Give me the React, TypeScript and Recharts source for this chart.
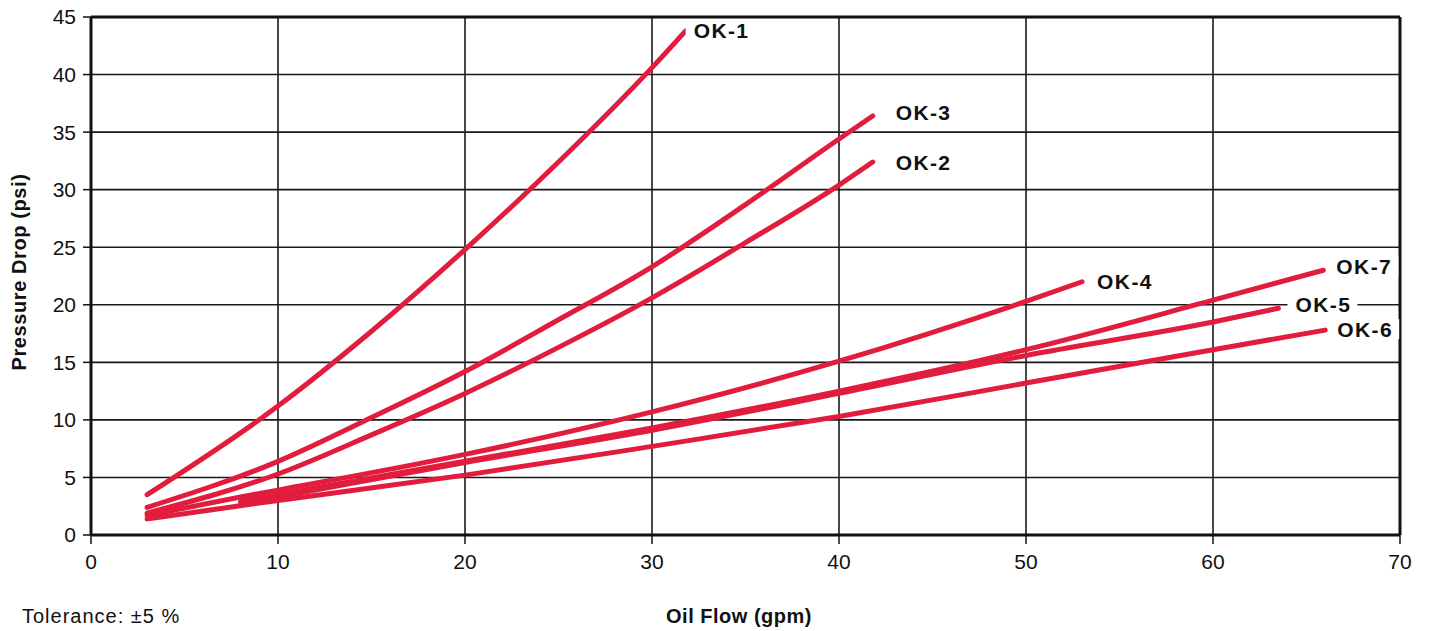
import { LineChart, Line, XAxis, YAxis, CartesianGrid, ReferenceLine } from 'recharts'

// oil flow (gpm) / pressure drop (psi) pairs
const OK1 = [[3, 3.5], [10, 11.2], [15, 17.7], [20, 24.8], [25, 32.4], [30, 40.6], [31.8, 43.8]]
const OK2 = [[3, 1.9], [10, 5.3], [15, 8.7], [20, 12.3], [25, 16.3], [30, 20.6], [35, 25.4], [40, 30.4], [41.8, 32.4]]
const OK3 = [[3, 2.4], [10, 6.4], [15, 10.2], [20, 14.2], [25, 18.7], [30, 23.3], [35, 28.7], [40, 34.4], [41.8, 36.4]]
const OK4 = [[3, 1.7], [8, 3.3], [10, 3.9], [20, 7.0], [30, 10.7], [40, 15.1], [50, 20.3], [53, 22.0]]
const OK5 = [[8, 2.7], [10, 3.3], [20, 6.3], [30, 9.1], [40, 12.3], [50, 15.6], [60, 18.5], [63.5, 19.7]]
const OK6 = [[3, 1.4], [10, 3.0], [20, 5.2], [30, 7.7], [40, 10.3], [50, 13.2], [60, 16.1], [66, 17.8]]
const OK7 = [[8, 2.9], [10, 3.5], [20, 6.4], [30, 9.3], [40, 12.5], [50, 16.1], [60, 20.4], [65.9, 23.0]]

const X_TICKS = [0, 10, 20, 30, 40, 50, 60, 70]
const Y_TICKS = [0, 5, 10, 15, 20, 25, 30, 35, 40, 45]

const RED = '#e21c3c'
const FONT = '"Liberation Sans", Arial, Helvetica, sans-serif'

const SERIES = [
  { name: 'OK-1', pts: OK1, dx: 8, dy: 0 },
  { name: 'OK-3', pts: OK3, dx: 23, dy: -3 },
  { name: 'OK-2', pts: OK2, dx: 23, dy: 0 },
  { name: 'OK-4', pts: OK4, dx: 15, dy: 0 },
  { name: 'OK-7', pts: OK7, dx: 13, dy: -4 },
  { name: 'OK-5', pts: OK5, dx: 17, dy: -4 },
  { name: 'OK-6', pts: OK6, dx: 12, dy: -1 },
]

const TICK = { fill: '#111', fontSize: 21, fontFamily: FONT }

function endLabel(name: string, last: number, dx: number, dy: number) {
  return (props: any) => {
    if (props.index !== last) return <g key={props.index} />
    return (
      <g key={props.index}>
        <rect x={props.x + dx - 8} y={props.y + dy - 10} width={70} height={20} fill="#fff" />
        <text x={props.x + dx} y={props.y + dy} dominantBaseline="central" fontFamily={FONT}
          fontSize={21} fontWeight="bold" letterSpacing={1.4} fill="#111">{name}</text>
      </g>
    )
  }
}

export default function App() {
  return (
    <div style={{ position: 'absolute', left: 0, top: 0, width: 1431, height: 631, background: '#fff', fontFamily: FONT }}>
      <LineChart width={1431} height={631} margin={{ top: 17, right: 31, left: 31, bottom: 66 }}>
        <CartesianGrid stroke="#1a1a1a" strokeWidth={1.6} />
        <XAxis type="number" dataKey="x" domain={[0, 70]} ticks={X_TICKS} interval={0}
          tick={TICK} tickSize={9} tickMargin={10} height={30}
          axisLine={{ stroke: '#111', strokeWidth: 3 }} tickLine={{ stroke: '#111', strokeWidth: 1.5 }} />
        <YAxis type="number" domain={[0, 45]} ticks={Y_TICKS} interval={0}
          tick={TICK} tickSize={8} tickMargin={7} width={60}
          axisLine={{ stroke: '#111', strokeWidth: 3 }} tickLine={{ stroke: '#111', strokeWidth: 1.5 }} />
        <ReferenceLine y={45} stroke="#111" strokeWidth={3} />
        {SERIES.map(s => (
          <Line key={s.name} data={s.pts.map(([x, y]) => ({ x, y }))} dataKey="y" type="monotone"
            stroke={RED} strokeWidth={5} strokeLinecap="round" dot={false} activeDot={false}
            isAnimationActive={false} label={endLabel(s.name, s.pts.length - 1, s.dx, s.dy)} />
        ))}
        <ReferenceLine x={70} stroke="#111" strokeWidth={3} />
      </LineChart>
      <div style={{ position: 'absolute', left: 22, top: 605, fontSize: 20, letterSpacing: 1, color: '#111' }}>
        Tolerance: ±5 %
      </div>
      <div style={{ position: 'absolute', left: 739, top: 605, transform: 'translateX(-50%)', fontSize: 20,
        fontWeight: 'bold', letterSpacing: 0.5, color: '#111', whiteSpace: 'nowrap' }}>
        Oil Flow (gpm)
      </div>
      <div style={{ position: 'absolute', left: 19, top: 272, transform: 'translate(-50%, -50%) rotate(-90deg)',
        fontSize: 20, fontWeight: 'bold', letterSpacing: 0.6, color: '#111', whiteSpace: 'nowrap' }}>
        Pressure Drop (psi)
      </div>
    </div>
  )
}
